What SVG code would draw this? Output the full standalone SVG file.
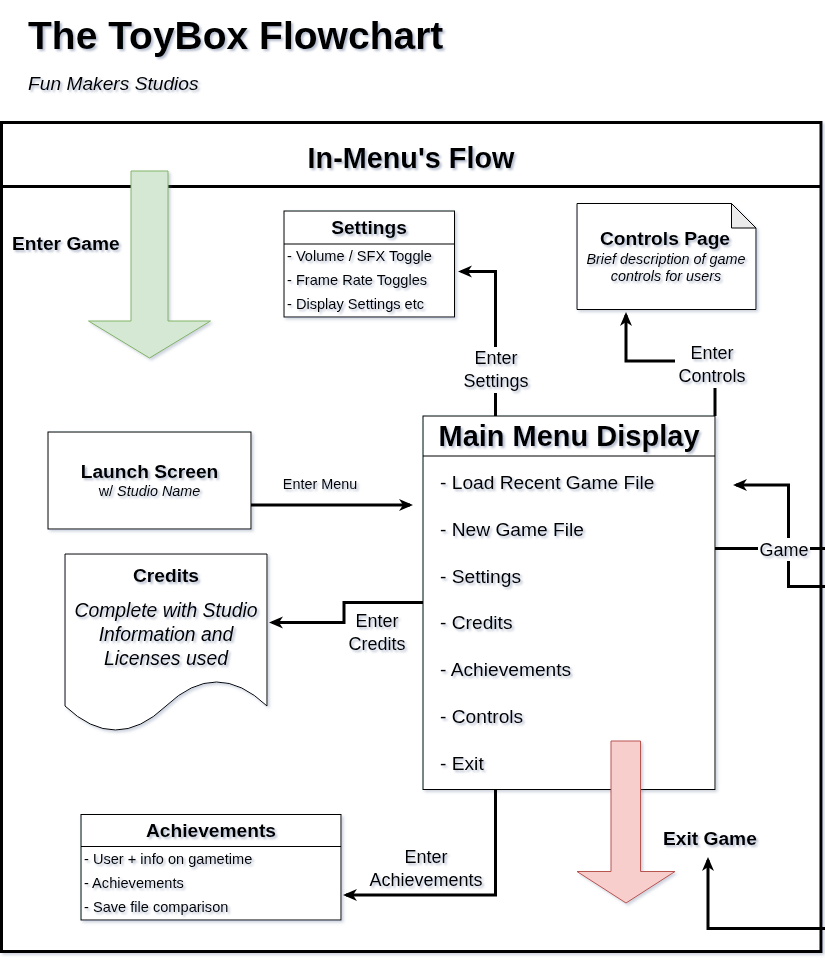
<svg xmlns="http://www.w3.org/2000/svg" width="825" height="962" viewBox="0 0 825 962">
<defs>
<style>
text{font-family:"Liberation Sans",Arial,sans-serif;fill:#000;}
.ts{filter:url(#tsh);}
.b{font-weight:bold;}
.i{font-style:italic;}
.mid{text-anchor:middle;}
.box{fill:#fff;stroke:#000;stroke-width:1;}
.edge{fill:none;stroke:#000;stroke-width:3;}
.lbl{font-size:18px;}
.item{font-size:14.6px;}
.mitem{font-size:19.2px;}
.ttl{font-size:19.2px;font-weight:bold;}
</style>
<filter id="tsh" x="-10%" y="-30%" width="130%" height="180%">
<feDropShadow dx="2" dy="2" stdDeviation="1.2" flood-color="#5a6a90" flood-opacity="0.45"/>
</filter>
<filter id="ssh" x="-5%" y="-5%" width="115%" height="115%">
<feDropShadow dx="2" dy="2" stdDeviation="1.5" flood-color="#7080a0" flood-opacity="0.35"/>
</filter>
<marker id="arr" markerUnits="userSpaceOnUse" markerWidth="16" markerHeight="14" refX="11" refY="7" orient="auto">
<path d="M0,1 L14,7 L0,13 L4,7 Z" fill="#000"/>
</marker>
</defs>
<rect width="825" height="962" fill="#fff"/>

<g id="title">
<text class="b ts" x="28" y="49" font-size="39">The ToyBox Flowchart</text>
<text class="i ts" x="28" y="90" font-size="19.2">Fun Makers Studios</text>
</g>

<g id="container" filter="url(#ssh)">
<rect x="1.5" y="122.5" width="819.5" height="829" fill="#fff" stroke="#000" stroke-width="3"/>
<line x1="1.5" y1="186.5" x2="821" y2="186.5" stroke="#000" stroke-width="3"/>
<text class="b mid ts" x="411" y="168" font-size="28.8">In-Menu's Flow</text>
</g>

<g id="enter-game">
<path d="M131,171 H168 V321 H210.5 L149.5,358 L88.5,321 H131 Z" fill="#d5e8d4" stroke="#82b366" stroke-width="1" filter="url(#ssh)"/>
<text class="b ts" x="12" y="250" font-size="19.2">Enter Game</text>
</g>

<g id="settings">
<rect class="box" x="284" y="211" width="170.5" height="106" filter="url(#ssh)"/>
<line x1="284" y1="244" x2="454.5" y2="244" stroke="#000" stroke-width="1"/>
<text class="ttl mid ts" x="369" y="233.5">Settings</text>
<text class="item ts" x="287" y="260.5">- Volume / SFX Toggle</text>
<text class="item ts" x="287" y="284.5">- Frame Rate Toggles</text>
<text class="item ts" x="287" y="308.5">- Display Settings etc</text>
</g>

<g id="controls-page">
<path d="M577,203.5 H731.5 L756,228 V309.5 H577 Z" fill="#fff" stroke="#000" stroke-width="1" filter="url(#ssh)"/>
<path d="M731.5,203.5 V228 H756 Z" fill="#ebebeb" stroke="#000" stroke-width="1"/>
<text class="ttl mid ts" x="665" y="245">Controls Page</text>
<text class="i mid ts" x="666" y="263.5" font-size="14.4">Brief description of game</text>
<text class="i mid ts" x="666" y="281" font-size="14.4">controls for users</text>
</g>

<g id="launch-screen">
<rect class="box" x="48" y="432" width="203" height="97" filter="url(#ssh)"/>
<text class="ttl mid ts" x="149.5" y="477.5">Launch Screen</text>
<text class="mid ts" x="149.5" y="496" font-size="14.4">w/ <tspan class="i">Studio Name</tspan></text>
</g>

<g id="credits">
<path d="M65,554 H267 V706 Q216.5,658 166,706 Q115.5,754 65,706 Z" fill="#fff" stroke="#000" stroke-width="1" filter="url(#ssh)"/>
<text class="ttl mid ts" x="166" y="582">Credits</text>
<text class="i mid ts" x="166" y="617" font-size="19.4">Complete with Studio</text>
<text class="i mid ts" x="166" y="641" font-size="19.4">Information and</text>
<text class="i mid ts" x="166" y="665" font-size="19.4">Licenses used</text>
</g>

<g id="main-menu">
<rect class="box" x="423" y="416" width="292" height="373.5" filter="url(#ssh)"/>
<line x1="423" y1="456" x2="715" y2="456" stroke="#000" stroke-width="1"/>
<text class="b mid ts" x="569" y="446" font-size="29">Main Menu Display</text>
<text class="mitem ts" x="440" y="488.5">- Load Recent Game File</text>
<text class="mitem ts" x="440" y="535.5">- New Game File</text>
<text class="mitem ts" x="440" y="582.5">- Settings</text>
<text class="mitem ts" x="440" y="629">- Credits</text>
<text class="mitem ts" x="440" y="676">- Achievements</text>
<text class="mitem ts" x="440" y="722.5">- Controls</text>
<text class="mitem ts" x="440" y="769.5">- Exit</text>
</g>

<g id="exit-game">
<path d="M611,741 H640.5 V871.5 H675 L626,903 L577,871.5 H611 Z" fill="#f8cecc" stroke="#b85450" stroke-width="1" filter="url(#ssh)"/>
<text class="b ts" x="663" y="845" font-size="19.2">Exit Game</text>
</g>

<g id="achievements">
<rect class="box" x="81" y="814.5" width="260" height="105.5" filter="url(#ssh)"/>
<line x1="81" y1="846.5" x2="341" y2="846.5" stroke="#000" stroke-width="1"/>
<text class="ttl mid ts" x="211" y="837">Achievements</text>
<text class="item ts" x="84" y="863.5">- User + info on gametime</text>
<text class="item ts" x="84" y="887.5">- Achievements</text>
<text class="item ts" x="84" y="911.5">- Save file comparison</text>
</g>

<g id="connectors">
<path class="edge" d="M495.5,416 V271.5 H461" marker-end="url(#arr)"/>
<path class="edge" d="M715,416 V361 H626 V315" marker-end="url(#arr)"/>
<path class="edge" d="M251,505 H410" marker-end="url(#arr)"/>
<path class="edge" d="M423,602.5 H344 V622.5 H272" marker-end="url(#arr)"/>
<path class="edge" d="M495.5,789.5 V895 H346" marker-end="url(#arr)"/>
<path class="edge" d="M715,548.5 H825"/>
<path class="edge" d="M825,586.5 H788.5 V485 H736" marker-end="url(#arr)"/>
<path class="edge" d="M825,928.5 H708 V860" marker-end="url(#arr)"/>

<rect x="461" y="347" width="69" height="46" fill="#fff"/>
<text class="lbl mid ts" x="496" y="363.5">Enter</text>
<text class="lbl mid ts" x="496" y="387">Settings</text>

<rect x="675" y="342" width="74" height="46" fill="#fff"/>
<text class="lbl mid ts" x="712" y="358.5">Enter</text>
<text class="lbl mid ts" x="712" y="382">Controls</text>

<text class="mid ts" x="320" y="488.5" font-size="14.4">Enter Menu</text>

<text class="lbl mid ts" x="377" y="626.5">Enter</text>
<text class="lbl mid ts" x="377" y="649.5">Credits</text>

<text class="lbl mid ts" x="426" y="862.5">Enter</text>
<text class="lbl mid ts" x="426" y="886">Achievements</text>

<rect x="758" y="538" width="52" height="23" fill="#fff"/>
<text class="lbl mid ts" x="784" y="555.5">Game</text>
</g>
</svg>
